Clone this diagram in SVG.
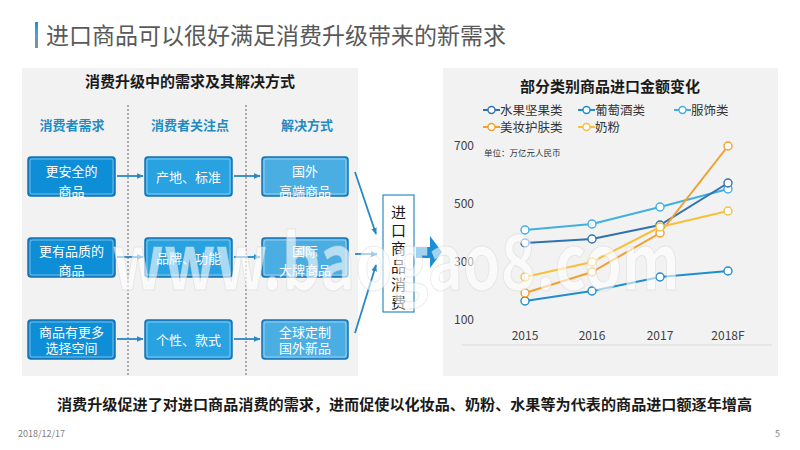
<svg xmlns="http://www.w3.org/2000/svg" width="800" height="450" viewBox="0 0 800 450">
<defs>
<linearGradient id="bar" x1="0" y1="0" x2="0" y2="1"><stop offset="0" stop-color="#1a90d8"/><stop offset="0.5" stop-color="#5a9cc8"/><stop offset="1" stop-color="#8c8c8c"/></linearGradient>
<marker id="ah" viewBox="0 0 10 10" refX="9" refY="5" markerWidth="7" markerHeight="7" orient="auto" markerUnits="userSpaceOnUse"><path d="M0,1 L10,5 L0,9 Z" fill="#2a87c4"/></marker>
<style>
text{font-family:"Noto Sans CJK SC","Liberation Sans",sans-serif}
.panel{fill:#f2f2f2}
.ptitle{font-size:15px;font-weight:bold;fill:#1a1a1a;text-anchor:middle}
.colh{font-size:13px;font-weight:bold;fill:#1e8bc3;text-anchor:middle}
.dot{stroke:#7f7f7f;stroke-width:1.2;stroke-dasharray:2,2;fill:none}
.box{stroke:#1573b5;stroke-width:1.5}
.inner{fill:none;stroke:#ffffff;stroke-opacity:0.55;stroke-width:0.8}
.c1{fill:#0d8ed6}.c2{fill:#28a2e0}.c3{fill:#4baee2}
.bt{font-size:13px;fill:#ffffff;text-anchor:middle}
.conn{stroke:#2a87c4;stroke-width:1.8;fill:none}
.ax{font-size:12px;fill:#404040}
.lg{font-size:12.5px;fill:#333333}
.s{fill:none;stroke-width:2}
.mk{fill:#ffffff;stroke-width:1.4}
</style>
</defs>
<rect width="800" height="450" fill="#ffffff"/>

<g id="title">
<rect x="35" y="22" width="3" height="26" fill="url(#bar)"/>
<text x="46" y="44" font-size="23" fill="#595959">进口商品可以很好满足消费升级带来的新需求</text>
</g>

<g id="left-panel">
<rect class="panel" x="22" y="68" width="336" height="308"/>
<text class="ptitle" x="190" y="87">消费升级中的需求及其解决方式</text>
<text class="colh" x="72" y="130">消费者需求</text>
<text class="colh" x="190" y="130">消费者关注点</text>
<text class="colh" x="307" y="130">解决方式</text>
<line class="dot" x1="128" y1="105" x2="128" y2="376"/>
<line class="dot" x1="246" y1="105" x2="246" y2="376"/>
</g>

<g id="need-safe"><rect class="box c1" x="28" y="157" width="87" height="39" rx="3"/><rect class="inner" x="30" y="159" width="83" height="35" rx="2"/><text class="bt" x="71.5" y="176">更安全的</text><text class="bt" x="71.5" y="196">商品</text></g>
<g id="need-quality"><rect class="box c1" x="28" y="238" width="87" height="39" rx="3"/><rect class="inner" x="30" y="240" width="83" height="35" rx="2"/><text class="bt" x="71.5" y="256">更有品质的</text><text class="bt" x="71.5" y="275">商品</text></g>
<g id="need-choice"><rect class="box c1" x="28" y="320" width="87" height="39" rx="3"/><rect class="inner" x="30" y="322" width="83" height="35" rx="2"/><text class="bt" x="71.5" y="337">商品有更多</text><text class="bt" x="71.5" y="353">选择空间</text></g>

<g id="focus-origin"><rect class="box c2" x="145" y="157" width="87" height="39" rx="3"/><rect class="inner" x="147" y="159" width="83" height="35" rx="2"/><text class="bt" x="188.5" y="182">产地、标准</text></g>
<g id="focus-brand"><rect class="box c2" x="145" y="238" width="87" height="39" rx="3"/><rect class="inner" x="147" y="240" width="83" height="35" rx="2"/><text class="bt" x="188.5" y="263">品牌、功能</text></g>
<g id="focus-style"><rect class="box c2" x="145" y="320" width="87" height="39" rx="3"/><rect class="inner" x="147" y="322" width="83" height="35" rx="2"/><text class="bt" x="188.5" y="345">个性、款式</text></g>

<g id="sol-highend"><rect class="box c3" x="262" y="157" width="86" height="39" rx="3"/><rect class="inner" x="264" y="159" width="82" height="35" rx="2"/><text class="bt" x="305" y="176">国外</text><text class="bt" x="305" y="196">高端商品</text></g>
<g id="sol-brand"><rect class="box c3" x="262" y="238" width="86" height="39" rx="3"/><rect class="inner" x="264" y="240" width="82" height="35" rx="2"/><text class="bt" x="305" y="256">国际</text><text class="bt" x="305" y="275">大牌商品</text></g>
<g id="sol-custom"><rect class="box c3" x="262" y="320" width="86" height="39" rx="3"/><rect class="inner" x="264" y="322" width="82" height="35" rx="2"/><text class="bt" x="305" y="337">全球定制</text><text class="bt" x="305" y="353">国外新品</text></g>

<g id="import-consumption">
<rect x="383" y="195" width="31" height="117" fill="#ffffff" stroke="#2e8bc0" stroke-width="1.2"/>
<text x="398.5" y="218" font-size="15" fill="#1a1a1a" text-anchor="middle">进</text>
<text x="398.5" y="236" font-size="15" fill="#1a1a1a" text-anchor="middle">口</text>
<text x="398.5" y="254" font-size="15" fill="#1a1a1a" text-anchor="middle">商</text>
<text x="398.5" y="272" font-size="15" fill="#1a1a1a" text-anchor="middle">品</text>
<text x="398.5" y="290" font-size="15" fill="#1a1a1a" text-anchor="middle">消</text>
<text x="398.5" y="308" font-size="15" fill="#1a1a1a" text-anchor="middle">费</text>
</g>

<g id="connectors">
<line class="conn" x1="117" y1="176" x2="143" y2="176" marker-end="url(#ah)"/>
<line class="conn" x1="117" y1="257" x2="143" y2="257" marker-end="url(#ah)"/>
<line class="conn" x1="117" y1="339" x2="143" y2="339" marker-end="url(#ah)"/>
<line class="conn" x1="234" y1="176" x2="260" y2="176" marker-end="url(#ah)"/>
<line class="conn" x1="234" y1="257" x2="260" y2="257" marker-end="url(#ah)"/>
<line class="conn" x1="234" y1="339" x2="260" y2="339" marker-end="url(#ah)"/>
<line class="conn" x1="355" y1="172" x2="376" y2="234" marker-end="url(#ah)"/>
<line class="conn" x1="355" y1="254" x2="377" y2="254" marker-end="url(#ah)"/>
<line class="conn" x1="355" y1="333" x2="376" y2="265" marker-end="url(#ah)"/>
<path d="M416,247 L430,247 L430,236 L442,252 L430,268 L430,258 L416,258 Z" fill="#1a8fd6"/>
</g>

<g id="chart">
<rect class="panel" x="443" y="68" width="335" height="308"/>
<text class="ptitle" x="610" y="92">部分类别商品进口金额变化</text>
<g id="legend">
<line x1="483" y1="110" x2="500" y2="110" stroke="#2f72b0" stroke-width="2"/><circle cx="491.5" cy="110" r="3.5" class="mk" stroke="#2f72b0"/><text class="lg" x="500" y="115">水果坚果类</text>
<line x1="578" y1="110" x2="595" y2="110" stroke="#1f8ecf" stroke-width="2"/><circle cx="586.5" cy="110" r="3.5" class="mk" stroke="#1f8ecf"/><text class="lg" x="595" y="115">葡萄酒类</text>
<line x1="674" y1="110" x2="691" y2="110" stroke="#3fb0e2" stroke-width="2"/><circle cx="682.5" cy="110" r="3.5" class="mk" stroke="#3fb0e2"/><text class="lg" x="691" y="115">服饰类</text>
<line x1="483" y1="127" x2="500" y2="127" stroke="#f0a030" stroke-width="2"/><circle cx="491.5" cy="127" r="3.5" class="mk" stroke="#f0a030"/><text class="lg" x="500" y="132">美妆护肤类</text>
<line x1="578" y1="127" x2="595" y2="127" stroke="#f7c03c" stroke-width="2"/><circle cx="586.5" cy="127" r="3.5" class="mk" stroke="#f7c03c"/><text class="lg" x="595" y="132">奶粉</text>
</g>
<text class="ax" x="454" y="150">700</text>
<text class="ax" x="454" y="208">500</text>
<text class="ax" x="454" y="266">300</text>
<text class="ax" x="454" y="324">100</text>
<text x="484" y="156" font-size="8.5" fill="#333333">单位：万亿元人民币</text>
<text class="ax" x="525" y="340" text-anchor="middle">2015</text>
<text class="ax" x="592" y="340" text-anchor="middle">2016</text>
<text class="ax" x="660" y="340" text-anchor="middle">2017</text>
<text class="ax" x="728" y="340" text-anchor="middle">2018F</text>
<line x1="462" y1="345" x2="772" y2="345" stroke="#d9d9d9" stroke-width="1"/>
<g id="series-clothing"><polyline class="s" stroke="#3fb0e2" points="525,230 592,224 660,207 728,189"/><g class="mk" stroke="#3fb0e2"><circle cx="525" cy="230" r="4"/><circle cx="592" cy="224" r="4"/><circle cx="660" cy="207" r="4"/><circle cx="728" cy="189" r="4"/></g></g>
<g id="series-fruit"><polyline class="s" stroke="#2f72b0" points="525,243 592,239 660,225 728,183"/><g class="mk" stroke="#2f72b0"><circle cx="525" cy="243" r="4"/><circle cx="592" cy="239" r="4"/><circle cx="660" cy="225" r="4"/><circle cx="728" cy="183" r="4"/></g></g>
<g id="series-wine"><polyline class="s" stroke="#1f8ecf" points="525,301 592,291 660,277 728,271"/><g class="mk" stroke="#1f8ecf"><circle cx="525" cy="301" r="4"/><circle cx="592" cy="291" r="4"/><circle cx="660" cy="277" r="4"/><circle cx="728" cy="271" r="4"/></g></g>
<g id="series-cosmetics"><polyline class="s" stroke="#f0a030" points="525,293 592,272 660,233 728,146"/><g class="mk" stroke="#f0a030"><circle cx="525" cy="293" r="4"/><circle cx="592" cy="272" r="4"/><circle cx="660" cy="233" r="4"/><circle cx="728" cy="146" r="4"/></g></g>
<g id="series-milk"><polyline class="s" stroke="#f7c03c" points="525,277 592,262 660,227 728,211"/><g class="mk" stroke="#f7c03c"><circle cx="525" cy="277" r="4"/><circle cx="592" cy="262" r="4"/><circle cx="660" cy="227" r="4"/><circle cx="728" cy="211" r="4"/></g></g>
</g>

<g id="watermark">
<text x="112" y="290" font-family="Liberation Sans, sans-serif" font-size="76" font-weight="bold" fill="#ffffff" fill-opacity="0.6" stroke="#d0d0d0" stroke-opacity="0.45" stroke-width="1" textLength="568" lengthAdjust="spacingAndGlyphs">www.baogao8.com</text>
</g>

<g id="footer">
<text x="57" y="410" font-size="14.5" font-weight="bold" fill="#1a1a1a" textLength="695" lengthAdjust="spacingAndGlyphs">消费升级促进了对进口商品消费的需求，进而促使以化妆品、奶粉、水果等为代表的商品进口额逐年增高</text>
<text x="18" y="437" font-size="9" fill="#808080">2018/12/17</text>
<text x="775" y="437" font-size="9" fill="#808080">5</text>
</g>
</svg>
